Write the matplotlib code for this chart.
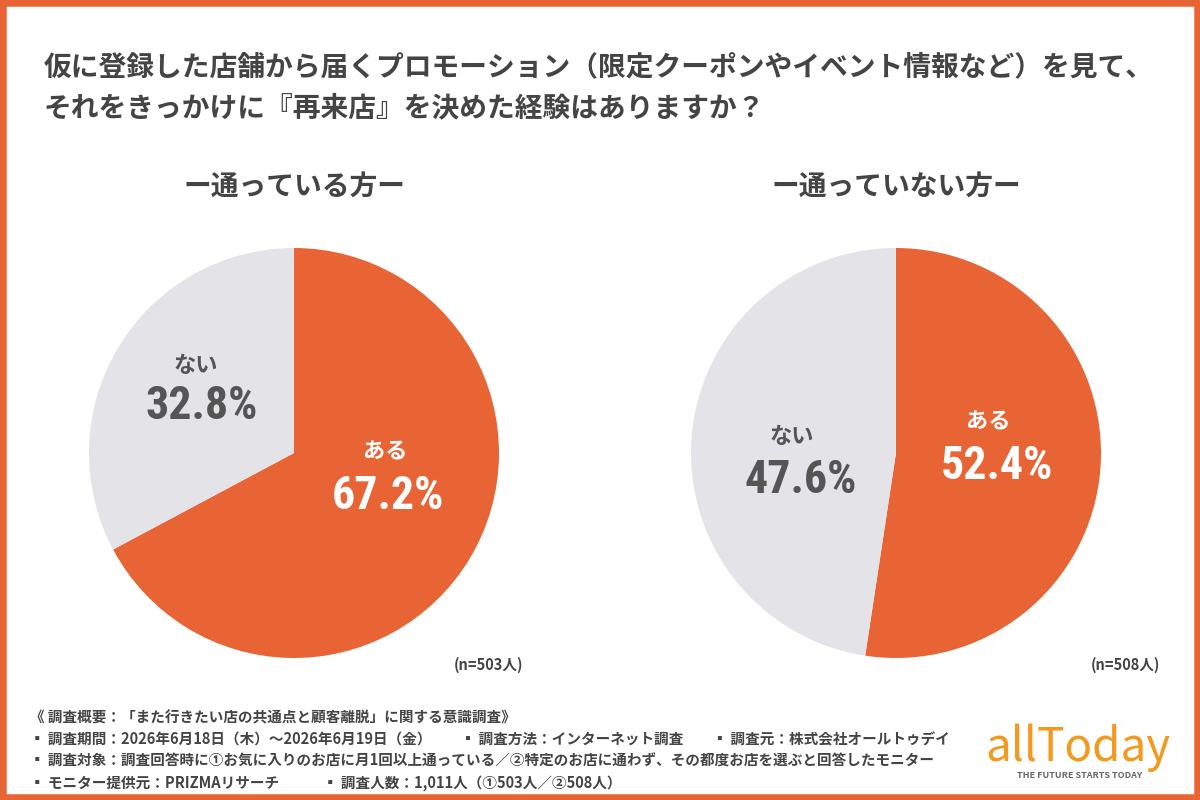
import matplotlib.pyplot as plt
from matplotlib.patches import Rectangle

plt.rcParams['font.family'] = ['Noto Sans CJK JP', 'DejaVu Sans']

# data
groups = ["ー通っている方ー", "ー通っていない方ー"]
answers = ["ある", "ない"]
shares = [[67.2, 32.8], [52.4, 47.6]]
sample_sizes = ["(n=503人)", "(n=508人)"]

title = ("仮に登録した店舗から届くプロモーション（限定クーポンやイベント情報など）を見て、\n"
         "それをきっかけに『再来店』を決めた経験はありますか？")
notes = [
    "《 調査概要：「また行きたい店の共通点と顧客離脱」に関する意識調査》",
    "▪ 調査期間：2026年6月18日（木）〜2026年6月19日（金）　　▪ 調査方法：インターネット調査　　▪ 調査元：株式会社オールトゥデイ",
    "▪ 調査対象：調査回答時に①お気に入りのお店に月1回以上通っている／②特定のお店に通わず、その都度お店を選ぶと回答したモニター",
    "▪ モニター提供元：PRIZMAリサーチ　　　▪ 調査人数：1,011人（①503人／②508人）",
]

ORANGE = "#E96435"
GRAY = "#E4E3E7"
TEXT = "#444444"
NUM_FONT = ["Roboto Condensed", "Roboto", "Noto Sans CJK JP"]

W, H = 1200, 800
fig = plt.figure(figsize=(12, 8), dpi=100)
fig.patch.set_facecolor("white")

# orange frame
fig.patches.append(Rectangle((0, 0), 1, 1, transform=fig.transFigure,
                             fill=False, edgecolor=ORANGE, linewidth=9))

fig.text(44 / W, 1 - 88 / H, title, fontsize=20, fontweight="bold",
         color=TEXT, va="center", ha="left", linespacing=1.6)

centers = [(294, 453), (896, 453)]
r = 205
# (x, y) of the "ある"/"ない" word and of the percentage, pixel space
word_pos = [[(385, 452), (196, 366)], [(988, 422), (792, 436)]]
pct_pos = [[(388, 496), (202, 406)], [(997, 466), (801, 480)]]
n_pos = [(523, 665), (1160, 665)]

for i, (cx, cy) in enumerate(centers):
    ax = fig.add_axes([(cx - r) / W, 1 - (cy + r) / H, 2 * r / W, 2 * r / H])
    ax.pie(shares[i], colors=[ORANGE, GRAY], startangle=90, counterclock=False,
           wedgeprops=dict(linewidth=0))
    ax.set_xlim(-1, 1)
    ax.set_ylim(-1, 1)
    ax.set_aspect("equal")
    ax.axis("off")

    fig.text(cx / W, 1 - 187 / H, groups[i], fontsize=20, fontweight="bold",
             color=TEXT, ha="center", va="center")
    fig.text(n_pos[i][0] / W, 1 - n_pos[i][1] / H, sample_sizes[i],
             fontsize=10.5, fontweight="bold", color=TEXT, ha="right", va="center")

    for j, ans in enumerate(answers):
        c = "white" if j == 0 else "#555555"
        wx, wy = word_pos[i][j]
        px, py = pct_pos[i][j]
        fig.text(wx / W, 1 - wy / H, ans, fontsize=16, fontweight="bold",
                 color=c, ha="center", va="center")
        fig.text(px / W, 1 - py / H, f"{shares[i][j]}%", fontsize=33,
                 fontweight="bold", color=c, ha="center", va="center",
                 family=NUM_FONT)

for k, line in enumerate(notes):
    fig.text(30 / W, 1 - (717 + k * 22) / H, line, fontsize=10.5,
             fontweight="bold", color=TEXT, ha="left", va="center")

# logo
fig.text(1078 / W, 1 - 748 / H, "allToday", fontsize=33, color="#F39A1E",
         ha="center", va="center", fontweight="normal")
fig.text(1080 / W, 1 - 776 / H, "THE FUTURE STARTS TODAY", fontsize=6.5,
         fontweight="bold", color="#666666", ha="center", va="center")

fig.savefig("out.png", dpi=100, facecolor="white")
